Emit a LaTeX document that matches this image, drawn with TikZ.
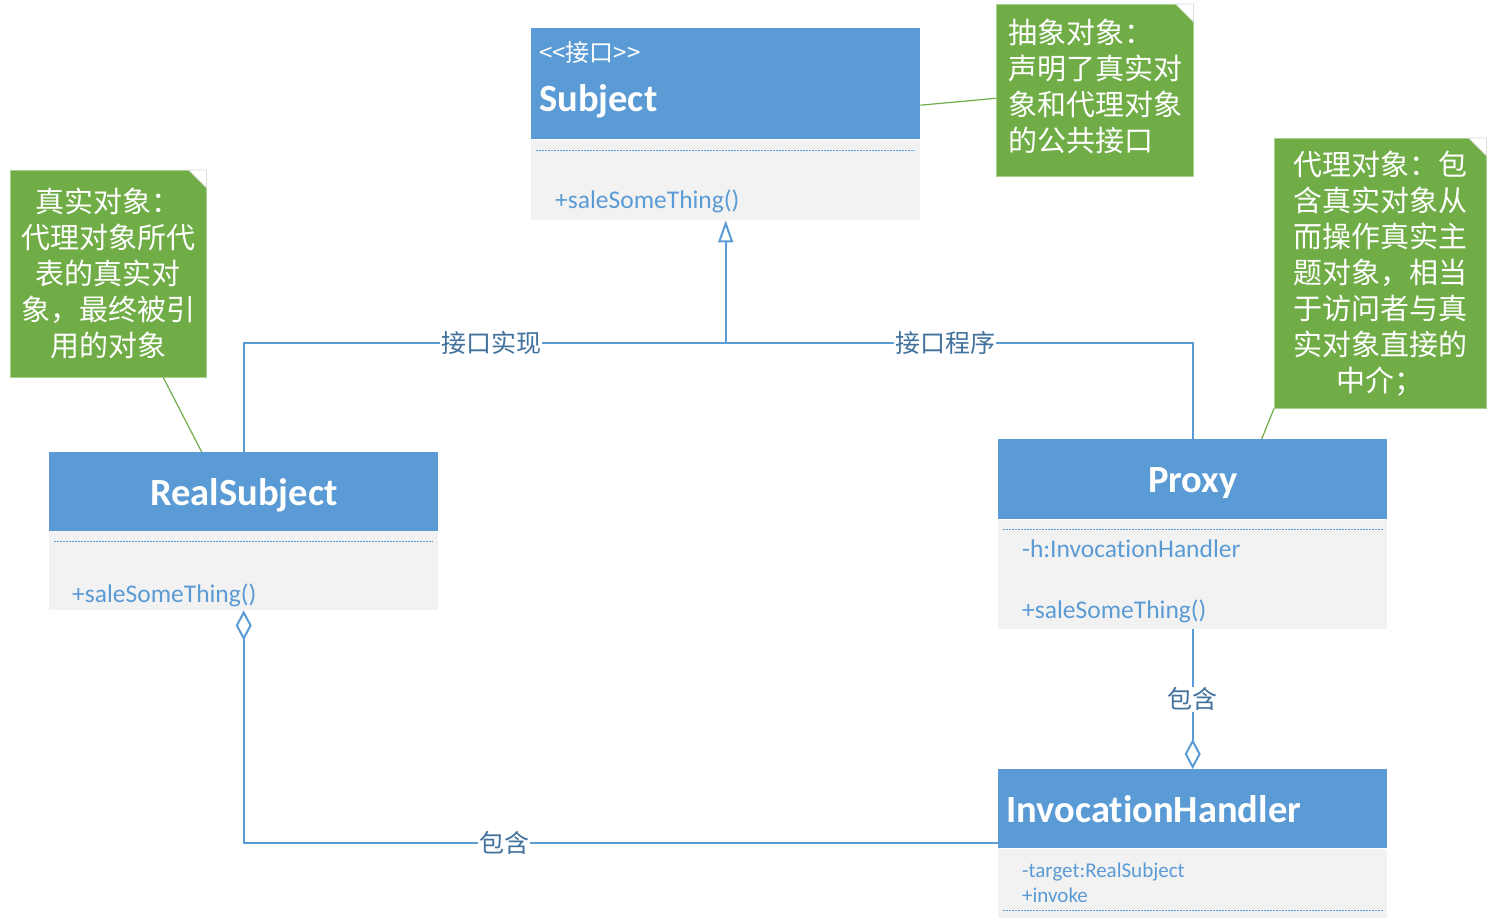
\documentclass[tikz,border=0pt]{standalone}
\usepackage{fontspec}
\setmainfont{Carlito}[Ligatures={NoCommon}]
\newfontfamily\cjk{Noto Sans CJK SC}
\usetikzlibrary{arrows.meta}
\definecolor{hdr}{HTML}{5B9BD5}
\definecolor{bodyc}{HTML}{F2F2F2}
\definecolor{linec}{HTML}{5B9BD5}
\definecolor{labc}{HTML}{41719C}
\definecolor{notec}{HTML}{70AD47}
\definecolor{noteline}{HTML}{A9D18E}
\begin{document}
\begin{tikzpicture}[x=1pt,y=-1pt,
  hdrbox/.style={fill=hdr, anchor=north west, inner sep=0pt, minimum width=389pt},
  bodybox/.style={fill=bodyc, anchor=north west, inner sep=0pt, minimum width=389pt},
  titletext/.style={text=white, inner sep=0pt, font=\fontsize{38.5}{40}\selectfont\bfseries},
  membertext/.style={text=linec, inner sep=0pt, anchor=base west, font=\fontsize{25.5}{28}\selectfont},
  smalltext/.style={text=linec, inner sep=0pt, anchor=base west, font=\fontsize{21}{24}\selectfont},
  sepline/.style={draw=linec, line width=0.9pt, dash pattern=on 2pt off 1pt},
  conn/.style={draw=linec, line width=2pt},
  lab/.style={text=labc, fill=white, inner sep=1pt, font=\cjk\fontsize{25}{28}\selectfont},
  notebox/.style={fill=notec, draw=noteline, line width=0.6pt, inner sep=0pt, anchor=north west, text=white, font=\cjk\fontsize{29}{36}\selectfont},
  notelink/.style={draw=notec, line width=1.2pt},
  fold/.style={fill=white, draw=black!15, line width=0.6pt}
]
\useasboundingbox[fill=white] (0,0) rectangle (1487,920);

% ---------- Subject ----------
\node[hdrbox, minimum height=111pt] (sbh) at (531,28) {};
\node[bodybox, minimum height=80pt] (sbb) at (531,140) {};
\node[text=white, inner sep=0pt, anchor=west, font=\cjk\fontsize{24}{26}\selectfont] (sbst) at (539,52) {<<接口>>};
\node[titletext, anchor=base west] (sbt) at (539,112) {Subject};
\draw[sepline] (536,150) -- (915,150);
\node[membertext] (sbm) at (555,208) {+saleSomeThing()};

% ---------- RealSubject ----------
\node[hdrbox, minimum height=79pt] (rsh) at (49,452) {};
\node[bodybox, minimum height=79pt] (rsb) at (49,531) {};
\node[titletext, anchor=base] (rst) at (244,505) {RealSubject};
\draw[sepline] (54,541) -- (433,541);
\node[membertext] (rsm) at (72,602) {+saleSomeThing()};

% ---------- Proxy ----------
\node[hdrbox, minimum height=80pt] (pxh) at (998,439) {};
\node[bodybox, minimum height=109pt] (pxb) at (998,520) {};
\node[titletext, anchor=base] (pxt) at (1193,492) {Proxy};
\draw[sepline] (1003,529) -- (1383,529);
\node[membertext] (pxa) at (1022,557) {-h:InvocationHandler};
\node[membertext] (pxm) at (1022,618) {+saleSomeThing()};

% ---------- InvocationHandler ----------
\node[hdrbox, minimum height=79pt] (ihh) at (998,769) {};
\node[bodybox, minimum height=69pt] (ihb) at (998,849) {};
\node[titletext, anchor=base west] (iht) at (1006,822) {InvocationHandler};
\node[smalltext] (iha) at (1022,877) {-target:RealSubject};
\node[smalltext] (ihm) at (1022,902) {+invoke};
\draw[sepline] (1003,910) -- (1383,910);

% ---------- Notes ----------
\node[notebox, minimum width=197pt, minimum height=172pt] (n1) at (996,4) {};
\node[text=white, inner sep=0pt, anchor=west, align=left, font=\cjk\fontsize{29}{36}\selectfont] (n1t) at (1008,86)
  {抽象对象：\\声明了真实对\\象和代理对象\\的公共接口};
\node[notebox, minimum width=196pt, minimum height=207pt, align=center] (n2) at (10,170)
  {真实对象：\\代理对象所代\\表的真实对\\象，最终被引\\用的对象};
\node[notebox, minimum width=212pt, minimum height=270pt, align=center] (n3) at (1274,138)
  {代理对象：包\\含真实对象从\\而操作真实主\\题对象，相当\\于访问者与真\\实对象直接的\\中介；};
\draw[fold] (n1.north east) ++(-18,0) -- ++(18,0) -- ++(0,18) -- cycle;
\draw[fold] (n2.north east) ++(-18,0) -- ++(18,0) -- ++(0,18) -- cycle;
\draw[fold] (n3.north east) ++(-18,0) -- ++(18,0) -- ++(0,18) -- cycle;

\draw[notelink] ([yshift=-21.5pt]sbh.east) -- ([yshift=-8pt]n1.west);
\draw[notelink] ([xshift=55pt]n2.south) -- ([xshift=-42pt]rsh.north);
\draw[notelink] (n3.south west) -- ([xshift=69pt]pxh.north);

% ---------- Connectors ----------
\coordinate (jn) at (sbb.south |- 0,342.5);
\draw[conn] (rsh.north) |- (jn);
\draw[conn] (pxh.north) |- (jn);
\draw[conn, -{Triangle[open, length=22pt, width=15pt]}] (jn) -- (sbb.south);
\node[lab] (l1) at (491,342.5) {接口实现};
\node[lab] (l2) at (945,342.5) {接口程序};

\draw[conn, -{Diamond[open, length=30pt, width=16pt]}] (pxb.south) -- (ihh.north)
  node[lab, midway] (l3) {包含};

\coordinate (ihl) at ([yshift=-34pt]ihh.west);
\draw[conn, -{Diamond[open, length=30pt, width=16pt]}] (ihl) -| (rsb.south);
\node[lab] (l4) at (504,843) {包含};
\end{tikzpicture}
\end{document}
